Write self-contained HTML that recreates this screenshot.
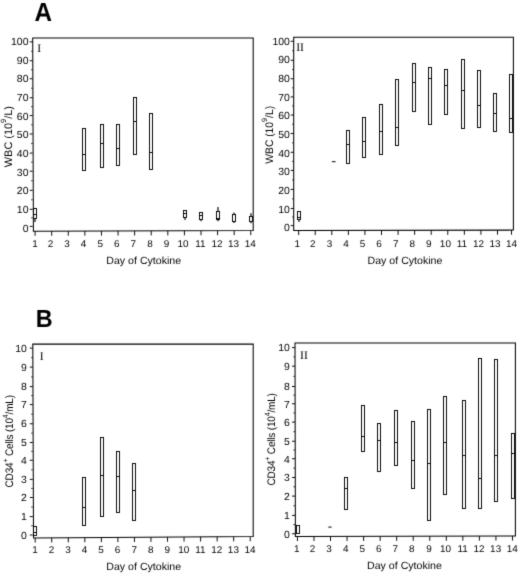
<!DOCTYPE html>
<html lang="en">
<head>
<meta charset="utf-8">
<title>Figure: WBC and CD34+ cells by day of cytokine</title>
<style>
html,body{margin:0;padding:0;background:#fff;}
body{width:520px;height:575px;overflow:hidden;}
svg{display:block;}
svg text{font-family:"Liberation Sans",sans-serif;fill:#000;text-rendering:geometricPrecision;}
svg text.rm{font-family:"Liberation Serif",serif;}
svg text.pl{font-weight:bold;}
</style>
</head>
<body>
<svg width="520" height="575" viewBox="0 0 520 575">
<defs><filter id="soft" color-interpolation-filters="sRGB" x="0" y="0" width="520" height="575" filterUnits="userSpaceOnUse"><feConvolveMatrix order="3" kernelMatrix="0.0144 0.0912 0.0144 0.0912 0.5776 0.0912 0.0144 0.0912 0.0144" edgeMode="none" preserveAlpha="false"/></filter></defs>
<rect x="0" y="0" width="520" height="575" fill="#ffffff"/>
<g filter="url(#soft)">
<!-- panel A-I -->
<path d="M32.70 37.90 L253.20 37.90 L253.20 230.50 L33.40 231.20 Z" fill="none" stroke="#000" stroke-width="1.05" stroke-linejoin="miter"/>
<line x1="29.70" y1="226.40" x2="32.70" y2="226.40" stroke="#000" stroke-width="0.95"/>
<text transform="translate(28.50,231.60) scale(1.016,1)" text-anchor="end" font-size="10.3">0</text>
<line x1="31.10" y1="217.85" x2="32.70" y2="217.85" stroke="#000" stroke-width="0.8"/>
<line x1="29.70" y1="209.30" x2="32.70" y2="209.30" stroke="#000" stroke-width="0.95"/>
<text transform="translate(28.50,212.93) scale(1.016,1)" text-anchor="end" font-size="10.3">10</text>
<line x1="31.10" y1="199.80" x2="32.70" y2="199.80" stroke="#000" stroke-width="0.8"/>
<line x1="29.70" y1="190.30" x2="32.70" y2="190.30" stroke="#000" stroke-width="0.95"/>
<text transform="translate(28.50,194.26) scale(1.016,1)" text-anchor="end" font-size="10.3">20</text>
<line x1="31.10" y1="180.75" x2="32.70" y2="180.75" stroke="#000" stroke-width="0.8"/>
<line x1="29.70" y1="171.20" x2="32.70" y2="171.20" stroke="#000" stroke-width="0.95"/>
<text transform="translate(28.50,175.59) scale(1.016,1)" text-anchor="end" font-size="10.3">30</text>
<line x1="31.10" y1="162.15" x2="32.70" y2="162.15" stroke="#000" stroke-width="0.8"/>
<line x1="29.70" y1="153.10" x2="32.70" y2="153.10" stroke="#000" stroke-width="0.95"/>
<text transform="translate(28.50,156.92) scale(1.016,1)" text-anchor="end" font-size="10.3">40</text>
<line x1="31.10" y1="143.55" x2="32.70" y2="143.55" stroke="#000" stroke-width="0.8"/>
<line x1="29.70" y1="134.00" x2="32.70" y2="134.00" stroke="#000" stroke-width="0.95"/>
<text transform="translate(28.50,138.25) scale(1.016,1)" text-anchor="end" font-size="10.3">50</text>
<line x1="31.10" y1="124.80" x2="32.70" y2="124.80" stroke="#000" stroke-width="0.8"/>
<line x1="29.70" y1="115.60" x2="32.70" y2="115.60" stroke="#000" stroke-width="0.95"/>
<text transform="translate(28.50,119.58) scale(1.016,1)" text-anchor="end" font-size="10.3">60</text>
<line x1="31.10" y1="106.67" x2="32.70" y2="106.67" stroke="#000" stroke-width="0.8"/>
<line x1="29.70" y1="97.75" x2="32.70" y2="97.75" stroke="#000" stroke-width="0.95"/>
<text transform="translate(28.50,100.91) scale(1.016,1)" text-anchor="end" font-size="10.3">70</text>
<line x1="31.10" y1="88.25" x2="32.70" y2="88.25" stroke="#000" stroke-width="0.8"/>
<line x1="29.70" y1="78.75" x2="32.70" y2="78.75" stroke="#000" stroke-width="0.95"/>
<text transform="translate(28.50,82.24) scale(1.016,1)" text-anchor="end" font-size="10.3">80</text>
<line x1="31.10" y1="69.72" x2="32.70" y2="69.72" stroke="#000" stroke-width="0.8"/>
<line x1="29.70" y1="60.70" x2="32.70" y2="60.70" stroke="#000" stroke-width="0.95"/>
<text transform="translate(28.50,63.57) scale(1.016,1)" text-anchor="end" font-size="10.3">90</text>
<line x1="31.10" y1="51.30" x2="32.70" y2="51.30" stroke="#000" stroke-width="0.8"/>
<line x1="29.70" y1="41.90" x2="32.70" y2="41.90" stroke="#000" stroke-width="0.95"/>
<text transform="translate(28.50,44.90) scale(1.016,1)" text-anchor="end" font-size="10.3">100</text>
<line x1="35.10" y1="231.19" x2="35.10" y2="235.79" stroke="#000" stroke-width="0.95"/>
<text transform="translate(35.10,247.10) scale(1.016,1)" text-anchor="middle" font-size="9.8">1</text>
<line x1="51.69" y1="231.14" x2="51.69" y2="235.74" stroke="#000" stroke-width="0.95"/>
<text transform="translate(50.39,247.10) scale(1.016,1)" text-anchor="middle" font-size="9.8">2</text>
<line x1="68.28" y1="231.09" x2="68.28" y2="235.69" stroke="#000" stroke-width="0.95"/>
<text transform="translate(66.98,247.10) scale(1.016,1)" text-anchor="middle" font-size="9.8">3</text>
<line x1="84.87" y1="231.03" x2="84.87" y2="235.63" stroke="#000" stroke-width="0.95"/>
<text transform="translate(83.57,247.10) scale(1.016,1)" text-anchor="middle" font-size="9.8">4</text>
<line x1="101.46" y1="230.98" x2="101.46" y2="235.58" stroke="#000" stroke-width="0.95"/>
<text transform="translate(100.16,247.10) scale(1.016,1)" text-anchor="middle" font-size="9.8">5</text>
<line x1="118.05" y1="230.93" x2="118.05" y2="235.53" stroke="#000" stroke-width="0.95"/>
<text transform="translate(116.75,247.10) scale(1.016,1)" text-anchor="middle" font-size="9.8">6</text>
<line x1="134.64" y1="230.88" x2="134.64" y2="235.48" stroke="#000" stroke-width="0.95"/>
<text transform="translate(133.34,247.10) scale(1.016,1)" text-anchor="middle" font-size="9.8">7</text>
<line x1="151.23" y1="230.82" x2="151.23" y2="235.42" stroke="#000" stroke-width="0.95"/>
<text transform="translate(149.93,247.10) scale(1.016,1)" text-anchor="middle" font-size="9.8">8</text>
<line x1="167.82" y1="230.77" x2="167.82" y2="235.37" stroke="#000" stroke-width="0.95"/>
<text transform="translate(166.52,247.10) scale(1.016,1)" text-anchor="middle" font-size="9.8">9</text>
<line x1="184.41" y1="230.72" x2="184.41" y2="235.32" stroke="#000" stroke-width="0.95"/>
<text transform="translate(183.11,247.10) scale(1.016,1)" text-anchor="middle" font-size="9.8">10</text>
<line x1="201.00" y1="230.67" x2="201.00" y2="235.27" stroke="#000" stroke-width="0.95"/>
<text transform="translate(200.40,247.10) scale(1.016,1)" text-anchor="middle" font-size="9.8">11</text>
<line x1="217.59" y1="230.61" x2="217.59" y2="235.21" stroke="#000" stroke-width="0.95"/>
<text transform="translate(216.99,247.10) scale(1.016,1)" text-anchor="middle" font-size="9.8">12</text>
<line x1="234.18" y1="230.56" x2="234.18" y2="235.16" stroke="#000" stroke-width="0.95"/>
<text transform="translate(233.58,247.10) scale(1.016,1)" text-anchor="middle" font-size="9.8">13</text>
<line x1="250.77" y1="230.51" x2="250.77" y2="235.11" stroke="#000" stroke-width="0.95"/>
<text transform="translate(250.17,247.10) scale(1.016,1)" text-anchor="middle" font-size="9.8">14</text>
<text transform="translate(143.75,263.80) scale(1.016,1)" text-anchor="middle" font-size="10.45">Day of Cytokine</text>
<text class="rm" transform="translate(37.30,51.50) scale(1.016,1)" text-anchor="start" font-size="11.5">I</text>
<line x1="35.00" y1="218.50" x2="35.00" y2="221.90" stroke="#000" stroke-width="1.15"/>
<rect x="33.50" y="208.50" width="3.00" height="10.00" fill="#fff" stroke="#000" stroke-width="0.95"/>
<line x1="33.50" y1="214.50" x2="36.50" y2="214.50" stroke="#000" stroke-width="0.95"/>
<rect x="82.50" y="128.50" width="3.00" height="42.00" fill="#fff" stroke="#000" stroke-width="0.95"/>
<line x1="82.50" y1="154.50" x2="85.50" y2="154.50" stroke="#000" stroke-width="0.95"/>
<rect x="100.50" y="124.50" width="3.00" height="43.00" fill="#fff" stroke="#000" stroke-width="0.95"/>
<line x1="100.50" y1="143.50" x2="103.50" y2="143.50" stroke="#000" stroke-width="0.95"/>
<rect x="116.50" y="124.50" width="3.00" height="41.00" fill="#fff" stroke="#000" stroke-width="0.95"/>
<line x1="116.50" y1="148.50" x2="119.50" y2="148.50" stroke="#000" stroke-width="0.95"/>
<rect x="133.50" y="97.50" width="3.00" height="57.00" fill="#fff" stroke="#000" stroke-width="0.95"/>
<line x1="133.50" y1="121.50" x2="136.50" y2="121.50" stroke="#000" stroke-width="0.95"/>
<rect x="149.50" y="113.50" width="3.00" height="56.00" fill="#fff" stroke="#000" stroke-width="0.95"/>
<line x1="149.50" y1="152.50" x2="152.50" y2="152.50" stroke="#000" stroke-width="0.95"/>
<line x1="185.00" y1="217.50" x2="185.00" y2="220.00" stroke="#000" stroke-width="1.15"/>
<rect x="183.50" y="210.50" width="3.00" height="7.00" fill="#fff" stroke="#000" stroke-width="0.95"/>
<line x1="183.50" y1="213.50" x2="186.50" y2="213.50" stroke="#000" stroke-width="0.95"/>
<line x1="201.00" y1="219.50" x2="201.00" y2="221.25" stroke="#000" stroke-width="1.15"/>
<rect x="199.50" y="212.50" width="3.00" height="7.00" fill="#fff" stroke="#000" stroke-width="0.95"/>
<line x1="199.50" y1="215.50" x2="202.50" y2="215.50" stroke="#000" stroke-width="0.95"/>
<line x1="218.00" y1="207.00" x2="218.00" y2="211.50" stroke="#000" stroke-width="1.15"/>
<line x1="218.00" y1="219.50" x2="218.00" y2="221.25" stroke="#000" stroke-width="1.15"/>
<rect x="216.50" y="211.50" width="3.00" height="8.00" fill="#fff" stroke="#000" stroke-width="0.95"/>
<line x1="216.50" y1="218.50" x2="219.50" y2="218.50" stroke="#000" stroke-width="0.95"/>
<line x1="234.00" y1="212.50" x2="234.00" y2="214.50" stroke="#000" stroke-width="1.15"/>
<line x1="234.00" y1="221.50" x2="234.00" y2="223.00" stroke="#000" stroke-width="1.15"/>
<rect x="232.50" y="214.50" width="3.00" height="7.00" fill="#fff" stroke="#000" stroke-width="0.95"/>
<line x1="251.00" y1="213.20" x2="251.00" y2="216.50" stroke="#000" stroke-width="1.15"/>
<line x1="251.00" y1="221.50" x2="251.00" y2="223.20" stroke="#000" stroke-width="1.15"/>
<rect x="249.50" y="216.50" width="3.00" height="5.00" fill="#fff" stroke="#000" stroke-width="0.95"/>
<!-- panel A-II -->
<path d="M293.70 37.30 L513.40 37.30 L513.40 230.10 L293.70 230.50 Z" fill="none" stroke="#000" stroke-width="1.05" stroke-linejoin="miter"/>
<line x1="290.70" y1="225.60" x2="293.70" y2="225.60" stroke="#000" stroke-width="0.95"/>
<text transform="translate(289.90,231.40) scale(1.016,1)" text-anchor="end" font-size="10.3">0</text>
<line x1="292.10" y1="217.05" x2="293.70" y2="217.05" stroke="#000" stroke-width="0.8"/>
<line x1="290.70" y1="208.50" x2="293.70" y2="208.50" stroke="#000" stroke-width="0.95"/>
<text transform="translate(289.90,212.72) scale(1.016,1)" text-anchor="end" font-size="10.3">10</text>
<line x1="292.10" y1="198.95" x2="293.70" y2="198.95" stroke="#000" stroke-width="0.8"/>
<line x1="290.70" y1="189.40" x2="293.70" y2="189.40" stroke="#000" stroke-width="0.95"/>
<text transform="translate(289.90,194.04) scale(1.016,1)" text-anchor="end" font-size="10.3">20</text>
<line x1="292.10" y1="179.90" x2="293.70" y2="179.90" stroke="#000" stroke-width="0.8"/>
<line x1="290.70" y1="170.40" x2="293.70" y2="170.40" stroke="#000" stroke-width="0.95"/>
<text transform="translate(289.90,175.36) scale(1.016,1)" text-anchor="end" font-size="10.3">30</text>
<line x1="292.10" y1="161.35" x2="293.70" y2="161.35" stroke="#000" stroke-width="0.8"/>
<line x1="290.70" y1="152.30" x2="293.70" y2="152.30" stroke="#000" stroke-width="0.95"/>
<text transform="translate(289.90,156.68) scale(1.016,1)" text-anchor="end" font-size="10.3">40</text>
<line x1="292.10" y1="142.90" x2="293.70" y2="142.90" stroke="#000" stroke-width="0.8"/>
<line x1="290.70" y1="133.50" x2="293.70" y2="133.50" stroke="#000" stroke-width="0.95"/>
<text transform="translate(289.90,138.00) scale(1.016,1)" text-anchor="end" font-size="10.3">50</text>
<line x1="292.10" y1="124.25" x2="293.70" y2="124.25" stroke="#000" stroke-width="0.8"/>
<line x1="290.70" y1="115.00" x2="293.70" y2="115.00" stroke="#000" stroke-width="0.95"/>
<text transform="translate(289.90,119.32) scale(1.016,1)" text-anchor="end" font-size="10.3">60</text>
<line x1="292.10" y1="105.95" x2="293.70" y2="105.95" stroke="#000" stroke-width="0.8"/>
<line x1="290.70" y1="96.90" x2="293.70" y2="96.90" stroke="#000" stroke-width="0.95"/>
<text transform="translate(289.90,100.64) scale(1.016,1)" text-anchor="end" font-size="10.3">70</text>
<line x1="292.10" y1="87.83" x2="293.70" y2="87.83" stroke="#000" stroke-width="0.8"/>
<line x1="290.70" y1="78.75" x2="293.70" y2="78.75" stroke="#000" stroke-width="0.95"/>
<text transform="translate(289.90,81.96) scale(1.016,1)" text-anchor="end" font-size="10.3">80</text>
<line x1="292.10" y1="69.50" x2="293.70" y2="69.50" stroke="#000" stroke-width="0.8"/>
<line x1="290.70" y1="60.25" x2="293.70" y2="60.25" stroke="#000" stroke-width="0.95"/>
<text transform="translate(289.90,63.28) scale(1.016,1)" text-anchor="end" font-size="10.3">90</text>
<line x1="292.10" y1="50.75" x2="293.70" y2="50.75" stroke="#000" stroke-width="0.8"/>
<line x1="290.70" y1="41.25" x2="293.70" y2="41.25" stroke="#000" stroke-width="0.95"/>
<text transform="translate(289.90,44.60) scale(1.016,1)" text-anchor="end" font-size="10.3">100</text>
<line x1="298.65" y1="230.49" x2="298.65" y2="235.09" stroke="#000" stroke-width="0.95"/>
<text transform="translate(297.35,246.90) scale(1.016,1)" text-anchor="middle" font-size="9.8">1</text>
<line x1="315.22" y1="230.46" x2="315.22" y2="235.06" stroke="#000" stroke-width="0.95"/>
<text transform="translate(312.82,246.90) scale(1.016,1)" text-anchor="middle" font-size="9.8">2</text>
<line x1="331.79" y1="230.43" x2="331.79" y2="235.03" stroke="#000" stroke-width="0.95"/>
<text transform="translate(329.39,246.90) scale(1.016,1)" text-anchor="middle" font-size="9.8">3</text>
<line x1="348.36" y1="230.40" x2="348.36" y2="235.00" stroke="#000" stroke-width="0.95"/>
<text transform="translate(345.96,246.90) scale(1.016,1)" text-anchor="middle" font-size="9.8">4</text>
<line x1="364.93" y1="230.37" x2="364.93" y2="234.97" stroke="#000" stroke-width="0.95"/>
<text transform="translate(362.53,246.90) scale(1.016,1)" text-anchor="middle" font-size="9.8">5</text>
<line x1="381.50" y1="230.34" x2="381.50" y2="234.94" stroke="#000" stroke-width="0.95"/>
<text transform="translate(379.10,246.90) scale(1.016,1)" text-anchor="middle" font-size="9.8">6</text>
<line x1="398.07" y1="230.31" x2="398.07" y2="234.91" stroke="#000" stroke-width="0.95"/>
<text transform="translate(395.67,246.90) scale(1.016,1)" text-anchor="middle" font-size="9.8">7</text>
<line x1="414.64" y1="230.28" x2="414.64" y2="234.88" stroke="#000" stroke-width="0.95"/>
<text transform="translate(412.24,246.90) scale(1.016,1)" text-anchor="middle" font-size="9.8">8</text>
<line x1="431.21" y1="230.25" x2="431.21" y2="234.85" stroke="#000" stroke-width="0.95"/>
<text transform="translate(428.81,246.90) scale(1.016,1)" text-anchor="middle" font-size="9.8">9</text>
<line x1="447.78" y1="230.22" x2="447.78" y2="234.82" stroke="#000" stroke-width="0.95"/>
<text transform="translate(445.38,246.90) scale(1.016,1)" text-anchor="middle" font-size="9.8">10</text>
<line x1="464.35" y1="230.19" x2="464.35" y2="234.79" stroke="#000" stroke-width="0.95"/>
<text transform="translate(461.95,246.90) scale(1.016,1)" text-anchor="middle" font-size="9.8">11</text>
<line x1="480.92" y1="230.16" x2="480.92" y2="234.76" stroke="#000" stroke-width="0.95"/>
<text transform="translate(478.52,246.90) scale(1.016,1)" text-anchor="middle" font-size="9.8">12</text>
<line x1="497.49" y1="230.13" x2="497.49" y2="234.73" stroke="#000" stroke-width="0.95"/>
<text transform="translate(495.09,246.90) scale(1.016,1)" text-anchor="middle" font-size="9.8">13</text>
<line x1="511.50" y1="230.10" x2="511.50" y2="234.70" stroke="#000" stroke-width="0.95"/>
<text transform="translate(511.50,246.90) scale(1.016,1)" text-anchor="middle" font-size="9.8">14</text>
<text transform="translate(405.00,263.80) scale(1.016,1)" text-anchor="middle" font-size="10.45">Day of Cytokine</text>
<text class="rm" transform="translate(296.20,51.40) scale(1.016,1)" text-anchor="start" font-size="11.5">II</text>
<line x1="299.00" y1="219.50" x2="299.00" y2="222.00" stroke="#000" stroke-width="1.15"/>
<rect x="297.50" y="211.50" width="3.00" height="8.00" fill="#fff" stroke="#000" stroke-width="0.95"/>
<line x1="297.50" y1="217.50" x2="300.50" y2="217.50" stroke="#000" stroke-width="0.95"/>
<rect x="346.50" y="130.50" width="3.00" height="33.00" fill="#fff" stroke="#000" stroke-width="0.95"/>
<line x1="346.50" y1="144.50" x2="349.50" y2="144.50" stroke="#000" stroke-width="0.95"/>
<rect x="362.50" y="117.50" width="3.00" height="40.00" fill="#fff" stroke="#000" stroke-width="0.95"/>
<line x1="362.50" y1="141.50" x2="365.50" y2="141.50" stroke="#000" stroke-width="0.95"/>
<rect x="379.50" y="104.50" width="3.00" height="50.00" fill="#fff" stroke="#000" stroke-width="0.95"/>
<line x1="379.50" y1="131.50" x2="382.50" y2="131.50" stroke="#000" stroke-width="0.95"/>
<rect x="395.50" y="79.50" width="3.00" height="66.00" fill="#fff" stroke="#000" stroke-width="0.95"/>
<line x1="395.50" y1="127.50" x2="398.50" y2="127.50" stroke="#000" stroke-width="0.95"/>
<rect x="412.50" y="63.50" width="3.00" height="48.00" fill="#fff" stroke="#000" stroke-width="0.95"/>
<line x1="412.50" y1="82.50" x2="415.50" y2="82.50" stroke="#000" stroke-width="0.95"/>
<rect x="428.50" y="67.50" width="3.00" height="57.00" fill="#fff" stroke="#000" stroke-width="0.95"/>
<line x1="428.50" y1="78.50" x2="431.50" y2="78.50" stroke="#000" stroke-width="0.95"/>
<rect x="444.50" y="69.50" width="3.00" height="45.00" fill="#fff" stroke="#000" stroke-width="0.95"/>
<line x1="444.50" y1="85.50" x2="447.50" y2="85.50" stroke="#000" stroke-width="0.95"/>
<rect x="461.50" y="59.50" width="3.00" height="69.00" fill="#fff" stroke="#000" stroke-width="0.95"/>
<line x1="461.50" y1="90.50" x2="464.50" y2="90.50" stroke="#000" stroke-width="0.95"/>
<rect x="477.50" y="70.50" width="3.00" height="57.00" fill="#fff" stroke="#000" stroke-width="0.95"/>
<line x1="477.50" y1="105.50" x2="480.50" y2="105.50" stroke="#000" stroke-width="0.95"/>
<rect x="493.50" y="93.50" width="3.00" height="38.00" fill="#fff" stroke="#000" stroke-width="0.95"/>
<line x1="493.50" y1="113.50" x2="496.50" y2="113.50" stroke="#000" stroke-width="0.95"/>
<rect x="509.50" y="74.50" width="3.00" height="58.00" fill="#fff" stroke="#000" stroke-width="0.95"/>
<line x1="509.50" y1="118.50" x2="512.50" y2="118.50" stroke="#000" stroke-width="0.95"/>
<line x1="331.90" y1="161.70" x2="335.60" y2="161.70" stroke="#000" stroke-width="1.0"/>
<!-- panel B-I -->
<path d="M32.80 344.10 L253.20 344.10 L253.20 536.60 L33.50 538.00 Z" fill="none" stroke="#000" stroke-width="1.05" stroke-linejoin="miter"/>
<line x1="29.80" y1="535.00" x2="32.80" y2="535.00" stroke="#000" stroke-width="0.95"/>
<text transform="translate(26.90,538.70) scale(1.016,1)" text-anchor="end" font-size="10.3">0</text>
<line x1="31.20" y1="525.80" x2="32.80" y2="525.80" stroke="#000" stroke-width="0.8"/>
<line x1="29.80" y1="516.60" x2="32.80" y2="516.60" stroke="#000" stroke-width="0.95"/>
<text transform="translate(26.90,520.30) scale(1.016,1)" text-anchor="end" font-size="10.3">1</text>
<line x1="31.20" y1="507.05" x2="32.80" y2="507.05" stroke="#000" stroke-width="0.8"/>
<line x1="29.80" y1="497.50" x2="32.80" y2="497.50" stroke="#000" stroke-width="0.95"/>
<text transform="translate(26.90,501.20) scale(1.016,1)" text-anchor="end" font-size="10.3">2</text>
<line x1="31.20" y1="488.45" x2="32.80" y2="488.45" stroke="#000" stroke-width="0.8"/>
<line x1="29.80" y1="479.40" x2="32.80" y2="479.40" stroke="#000" stroke-width="0.95"/>
<text transform="translate(26.90,483.10) scale(1.016,1)" text-anchor="end" font-size="10.3">3</text>
<line x1="31.20" y1="469.82" x2="32.80" y2="469.82" stroke="#000" stroke-width="0.8"/>
<line x1="29.80" y1="460.25" x2="32.80" y2="460.25" stroke="#000" stroke-width="0.95"/>
<text transform="translate(26.90,463.95) scale(1.016,1)" text-anchor="end" font-size="10.3">4</text>
<line x1="31.20" y1="451.38" x2="32.80" y2="451.38" stroke="#000" stroke-width="0.8"/>
<line x1="29.80" y1="442.50" x2="32.80" y2="442.50" stroke="#000" stroke-width="0.95"/>
<text transform="translate(26.90,446.20) scale(1.016,1)" text-anchor="end" font-size="10.3">5</text>
<line x1="31.20" y1="433.12" x2="32.80" y2="433.12" stroke="#000" stroke-width="0.8"/>
<line x1="29.80" y1="423.75" x2="32.80" y2="423.75" stroke="#000" stroke-width="0.95"/>
<text transform="translate(26.90,427.45) scale(1.016,1)" text-anchor="end" font-size="10.3">6</text>
<line x1="31.20" y1="414.18" x2="32.80" y2="414.18" stroke="#000" stroke-width="0.8"/>
<line x1="29.80" y1="404.60" x2="32.80" y2="404.60" stroke="#000" stroke-width="0.95"/>
<text transform="translate(26.90,408.30) scale(1.016,1)" text-anchor="end" font-size="10.3">7</text>
<line x1="31.20" y1="395.60" x2="32.80" y2="395.60" stroke="#000" stroke-width="0.8"/>
<line x1="29.80" y1="386.60" x2="32.80" y2="386.60" stroke="#000" stroke-width="0.95"/>
<text transform="translate(26.90,390.30) scale(1.016,1)" text-anchor="end" font-size="10.3">8</text>
<line x1="31.20" y1="376.85" x2="32.80" y2="376.85" stroke="#000" stroke-width="0.8"/>
<line x1="29.80" y1="367.10" x2="32.80" y2="367.10" stroke="#000" stroke-width="0.95"/>
<text transform="translate(26.90,370.80) scale(1.016,1)" text-anchor="end" font-size="10.3">9</text>
<line x1="31.20" y1="357.60" x2="32.80" y2="357.60" stroke="#000" stroke-width="0.8"/>
<line x1="29.80" y1="348.10" x2="32.80" y2="348.10" stroke="#000" stroke-width="0.95"/>
<text transform="translate(26.90,351.80) scale(1.016,1)" text-anchor="end" font-size="10.3">10</text>
<line x1="35.20" y1="537.98" x2="35.20" y2="542.58" stroke="#000" stroke-width="0.95"/>
<text transform="translate(34.90,553.30) scale(1.016,1)" text-anchor="middle" font-size="9.8">1</text>
<line x1="51.74" y1="537.88" x2="51.74" y2="542.48" stroke="#000" stroke-width="0.95"/>
<text transform="translate(51.44,553.30) scale(1.016,1)" text-anchor="middle" font-size="9.8">2</text>
<line x1="68.28" y1="537.77" x2="68.28" y2="542.37" stroke="#000" stroke-width="0.95"/>
<text transform="translate(67.98,553.30) scale(1.016,1)" text-anchor="middle" font-size="9.8">3</text>
<line x1="84.82" y1="537.67" x2="84.82" y2="542.27" stroke="#000" stroke-width="0.95"/>
<text transform="translate(84.52,553.30) scale(1.016,1)" text-anchor="middle" font-size="9.8">4</text>
<line x1="101.36" y1="537.56" x2="101.36" y2="542.16" stroke="#000" stroke-width="0.95"/>
<text transform="translate(101.06,553.30) scale(1.016,1)" text-anchor="middle" font-size="9.8">5</text>
<line x1="117.90" y1="537.46" x2="117.90" y2="542.06" stroke="#000" stroke-width="0.95"/>
<text transform="translate(117.60,553.30) scale(1.016,1)" text-anchor="middle" font-size="9.8">6</text>
<line x1="134.44" y1="537.35" x2="134.44" y2="541.95" stroke="#000" stroke-width="0.95"/>
<text transform="translate(134.14,553.30) scale(1.016,1)" text-anchor="middle" font-size="9.8">7</text>
<line x1="150.98" y1="537.25" x2="150.98" y2="541.85" stroke="#000" stroke-width="0.95"/>
<text transform="translate(150.68,553.30) scale(1.016,1)" text-anchor="middle" font-size="9.8">8</text>
<line x1="167.52" y1="537.14" x2="167.52" y2="541.74" stroke="#000" stroke-width="0.95"/>
<text transform="translate(167.22,553.30) scale(1.016,1)" text-anchor="middle" font-size="9.8">9</text>
<line x1="184.06" y1="537.04" x2="184.06" y2="541.64" stroke="#000" stroke-width="0.95"/>
<text transform="translate(183.76,553.30) scale(1.016,1)" text-anchor="middle" font-size="9.8">10</text>
<line x1="200.60" y1="536.93" x2="200.60" y2="541.53" stroke="#000" stroke-width="0.95"/>
<text transform="translate(200.30,553.30) scale(1.016,1)" text-anchor="middle" font-size="9.8">11</text>
<line x1="217.14" y1="536.83" x2="217.14" y2="541.43" stroke="#000" stroke-width="0.95"/>
<text transform="translate(216.84,553.30) scale(1.016,1)" text-anchor="middle" font-size="9.8">12</text>
<line x1="233.68" y1="536.72" x2="233.68" y2="541.32" stroke="#000" stroke-width="0.95"/>
<text transform="translate(233.38,553.30) scale(1.016,1)" text-anchor="middle" font-size="9.8">13</text>
<line x1="250.22" y1="536.62" x2="250.22" y2="541.22" stroke="#000" stroke-width="0.95"/>
<text transform="translate(249.92,553.30) scale(1.016,1)" text-anchor="middle" font-size="9.8">14</text>
<text transform="translate(143.75,570.00) scale(1.016,1)" text-anchor="middle" font-size="10.45">Day of Cytokine</text>
<text class="rm" transform="translate(39.80,359.60) scale(1.016,1)" text-anchor="start" font-size="11.5">I</text>
<rect x="33.50" y="526.50" width="3.00" height="9.00" fill="#fff" stroke="#000" stroke-width="0.95"/>
<line x1="33.50" y1="532.50" x2="36.50" y2="532.50" stroke="#000" stroke-width="0.95"/>
<rect x="82.50" y="477.50" width="3.00" height="48.00" fill="#fff" stroke="#000" stroke-width="0.95"/>
<line x1="82.50" y1="507.50" x2="85.50" y2="507.50" stroke="#000" stroke-width="0.95"/>
<rect x="100.50" y="437.50" width="3.00" height="79.00" fill="#fff" stroke="#000" stroke-width="0.95"/>
<line x1="100.50" y1="475.50" x2="103.50" y2="475.50" stroke="#000" stroke-width="0.95"/>
<rect x="116.50" y="451.50" width="3.00" height="61.00" fill="#fff" stroke="#000" stroke-width="0.95"/>
<line x1="116.50" y1="476.50" x2="119.50" y2="476.50" stroke="#000" stroke-width="0.95"/>
<rect x="132.50" y="463.50" width="3.00" height="57.00" fill="#fff" stroke="#000" stroke-width="0.95"/>
<line x1="132.50" y1="490.50" x2="135.50" y2="490.50" stroke="#000" stroke-width="0.95"/>
<!-- panel B-II -->
<path d="M295.00 343.00 L515.40 343.00 L515.40 536.00 L295.40 536.50 Z" fill="none" stroke="#000" stroke-width="1.05" stroke-linejoin="miter"/>
<line x1="292.00" y1="533.75" x2="295.00" y2="533.75" stroke="#000" stroke-width="0.95"/>
<text transform="translate(289.90,537.50) scale(1.016,1)" text-anchor="end" font-size="10.3">0</text>
<line x1="293.40" y1="524.58" x2="295.00" y2="524.58" stroke="#000" stroke-width="0.8"/>
<line x1="292.00" y1="515.40" x2="295.00" y2="515.40" stroke="#000" stroke-width="0.95"/>
<text transform="translate(289.90,519.15) scale(1.016,1)" text-anchor="end" font-size="10.3">1</text>
<line x1="293.40" y1="505.75" x2="295.00" y2="505.75" stroke="#000" stroke-width="0.8"/>
<line x1="292.00" y1="496.10" x2="295.00" y2="496.10" stroke="#000" stroke-width="0.95"/>
<text transform="translate(289.90,499.85) scale(1.016,1)" text-anchor="end" font-size="10.3">2</text>
<line x1="293.40" y1="486.80" x2="295.00" y2="486.80" stroke="#000" stroke-width="0.8"/>
<line x1="292.00" y1="477.50" x2="295.00" y2="477.50" stroke="#000" stroke-width="0.95"/>
<text transform="translate(289.90,481.25) scale(1.016,1)" text-anchor="end" font-size="10.3">3</text>
<line x1="293.40" y1="468.12" x2="295.00" y2="468.12" stroke="#000" stroke-width="0.8"/>
<line x1="292.00" y1="458.75" x2="295.00" y2="458.75" stroke="#000" stroke-width="0.95"/>
<text transform="translate(289.90,462.50) scale(1.016,1)" text-anchor="end" font-size="10.3">4</text>
<line x1="293.40" y1="450.00" x2="295.00" y2="450.00" stroke="#000" stroke-width="0.8"/>
<line x1="292.00" y1="441.25" x2="295.00" y2="441.25" stroke="#000" stroke-width="0.95"/>
<text transform="translate(289.90,445.00) scale(1.016,1)" text-anchor="end" font-size="10.3">5</text>
<line x1="293.40" y1="431.68" x2="295.00" y2="431.68" stroke="#000" stroke-width="0.8"/>
<line x1="292.00" y1="422.10" x2="295.00" y2="422.10" stroke="#000" stroke-width="0.95"/>
<text transform="translate(289.90,425.85) scale(1.016,1)" text-anchor="end" font-size="10.3">6</text>
<line x1="293.40" y1="412.93" x2="295.00" y2="412.93" stroke="#000" stroke-width="0.8"/>
<line x1="292.00" y1="403.75" x2="295.00" y2="403.75" stroke="#000" stroke-width="0.95"/>
<text transform="translate(289.90,407.50) scale(1.016,1)" text-anchor="end" font-size="10.3">7</text>
<line x1="293.40" y1="395.12" x2="295.00" y2="395.12" stroke="#000" stroke-width="0.8"/>
<line x1="292.00" y1="386.50" x2="295.00" y2="386.50" stroke="#000" stroke-width="0.95"/>
<text transform="translate(289.90,390.25) scale(1.016,1)" text-anchor="end" font-size="10.3">8</text>
<line x1="293.40" y1="376.35" x2="295.00" y2="376.35" stroke="#000" stroke-width="0.8"/>
<line x1="292.00" y1="366.20" x2="295.00" y2="366.20" stroke="#000" stroke-width="0.95"/>
<text transform="translate(289.90,369.95) scale(1.016,1)" text-anchor="end" font-size="10.3">9</text>
<line x1="293.40" y1="356.90" x2="295.00" y2="356.90" stroke="#000" stroke-width="0.8"/>
<line x1="292.00" y1="347.60" x2="295.00" y2="347.60" stroke="#000" stroke-width="0.95"/>
<text transform="translate(289.90,351.35) scale(1.016,1)" text-anchor="end" font-size="10.3">10</text>
<line x1="297.45" y1="536.49" x2="297.45" y2="541.09" stroke="#000" stroke-width="0.95"/>
<text transform="translate(296.85,552.10) scale(1.016,1)" text-anchor="middle" font-size="9.8">1</text>
<line x1="313.99" y1="536.46" x2="313.99" y2="541.06" stroke="#000" stroke-width="0.95"/>
<text transform="translate(312.59,552.10) scale(1.016,1)" text-anchor="middle" font-size="9.8">2</text>
<line x1="330.53" y1="536.42" x2="330.53" y2="541.02" stroke="#000" stroke-width="0.95"/>
<text transform="translate(329.13,552.10) scale(1.016,1)" text-anchor="middle" font-size="9.8">3</text>
<line x1="347.07" y1="536.38" x2="347.07" y2="540.98" stroke="#000" stroke-width="0.95"/>
<text transform="translate(345.67,552.10) scale(1.016,1)" text-anchor="middle" font-size="9.8">4</text>
<line x1="363.61" y1="536.34" x2="363.61" y2="540.94" stroke="#000" stroke-width="0.95"/>
<text transform="translate(362.21,552.10) scale(1.016,1)" text-anchor="middle" font-size="9.8">5</text>
<line x1="380.15" y1="536.31" x2="380.15" y2="540.91" stroke="#000" stroke-width="0.95"/>
<text transform="translate(378.75,552.10) scale(1.016,1)" text-anchor="middle" font-size="9.8">6</text>
<line x1="396.69" y1="536.27" x2="396.69" y2="540.87" stroke="#000" stroke-width="0.95"/>
<text transform="translate(395.29,552.10) scale(1.016,1)" text-anchor="middle" font-size="9.8">7</text>
<line x1="413.23" y1="536.23" x2="413.23" y2="540.83" stroke="#000" stroke-width="0.95"/>
<text transform="translate(411.83,552.10) scale(1.016,1)" text-anchor="middle" font-size="9.8">8</text>
<line x1="429.77" y1="536.19" x2="429.77" y2="540.79" stroke="#000" stroke-width="0.95"/>
<text transform="translate(428.97,552.10) scale(1.016,1)" text-anchor="middle" font-size="9.8">9</text>
<line x1="446.31" y1="536.16" x2="446.31" y2="540.76" stroke="#000" stroke-width="0.95"/>
<text transform="translate(445.51,552.10) scale(1.016,1)" text-anchor="middle" font-size="9.8">10</text>
<line x1="462.85" y1="536.12" x2="462.85" y2="540.72" stroke="#000" stroke-width="0.95"/>
<text transform="translate(462.55,552.10) scale(1.016,1)" text-anchor="middle" font-size="9.8">11</text>
<line x1="479.39" y1="536.08" x2="479.39" y2="540.68" stroke="#000" stroke-width="0.95"/>
<text transform="translate(479.09,552.10) scale(1.016,1)" text-anchor="middle" font-size="9.8">12</text>
<line x1="495.93" y1="536.04" x2="495.93" y2="540.64" stroke="#000" stroke-width="0.95"/>
<text transform="translate(495.63,552.10) scale(1.016,1)" text-anchor="middle" font-size="9.8">13</text>
<line x1="512.47" y1="536.01" x2="512.47" y2="540.61" stroke="#000" stroke-width="0.95"/>
<text transform="translate(512.17,552.10) scale(1.016,1)" text-anchor="middle" font-size="9.8">14</text>
<text transform="translate(404.50,568.80) scale(1.016,1)" text-anchor="middle" font-size="10.45">Day of Cytokine</text>
<text class="rm" transform="translate(300.00,358.60) scale(1.016,1)" text-anchor="start" font-size="11.5">II</text>
<rect x="296.50" y="525.50" width="3.00" height="8.00" fill="#fff" stroke="#000" stroke-width="0.95"/>
<rect x="344.50" y="477.50" width="3.00" height="32.00" fill="#fff" stroke="#000" stroke-width="0.95"/>
<line x1="344.50" y1="488.50" x2="347.50" y2="488.50" stroke="#000" stroke-width="0.95"/>
<rect x="361.50" y="405.50" width="3.00" height="46.00" fill="#fff" stroke="#000" stroke-width="0.95"/>
<line x1="361.50" y1="436.50" x2="364.50" y2="436.50" stroke="#000" stroke-width="0.95"/>
<rect x="377.50" y="423.50" width="3.00" height="48.00" fill="#fff" stroke="#000" stroke-width="0.95"/>
<line x1="377.50" y1="440.50" x2="380.50" y2="440.50" stroke="#000" stroke-width="0.95"/>
<rect x="394.50" y="410.50" width="3.00" height="55.00" fill="#fff" stroke="#000" stroke-width="0.95"/>
<line x1="394.50" y1="442.50" x2="397.50" y2="442.50" stroke="#000" stroke-width="0.95"/>
<rect x="411.50" y="421.50" width="3.00" height="67.00" fill="#fff" stroke="#000" stroke-width="0.95"/>
<line x1="411.50" y1="460.50" x2="414.50" y2="460.50" stroke="#000" stroke-width="0.95"/>
<rect x="427.50" y="409.50" width="3.00" height="111.00" fill="#fff" stroke="#000" stroke-width="0.95"/>
<line x1="427.50" y1="463.50" x2="430.50" y2="463.50" stroke="#000" stroke-width="0.95"/>
<rect x="443.50" y="396.50" width="3.00" height="98.00" fill="#fff" stroke="#000" stroke-width="0.95"/>
<line x1="443.50" y1="442.50" x2="446.50" y2="442.50" stroke="#000" stroke-width="0.95"/>
<rect x="462.50" y="400.50" width="3.00" height="108.00" fill="#fff" stroke="#000" stroke-width="0.95"/>
<line x1="462.50" y1="455.50" x2="465.50" y2="455.50" stroke="#000" stroke-width="0.95"/>
<rect x="478.50" y="358.50" width="3.00" height="150.00" fill="#fff" stroke="#000" stroke-width="0.95"/>
<line x1="478.50" y1="478.50" x2="481.50" y2="478.50" stroke="#000" stroke-width="0.95"/>
<rect x="494.50" y="359.50" width="3.00" height="142.00" fill="#fff" stroke="#000" stroke-width="0.95"/>
<line x1="494.50" y1="455.50" x2="497.50" y2="455.50" stroke="#000" stroke-width="0.95"/>
<rect x="511.50" y="433.50" width="3.00" height="65.00" fill="#fff" stroke="#000" stroke-width="0.95"/>
<line x1="511.50" y1="453.50" x2="514.50" y2="453.50" stroke="#000" stroke-width="0.95"/>
<line x1="328.30" y1="527.10" x2="331.60" y2="527.10" stroke="#000" stroke-width="1.0"/>
<text class="pl" transform="translate(34.6,21.0) scale(0.923,1)" font-size="26.3">A</text>
<text class="pl" transform="translate(35.7,327.3) scale(0.947,1)" font-size="24.7">B</text>
<text transform="translate(12.00,136.60) rotate(-90) scale(1,1)" text-anchor="middle" font-size="10.9" letter-spacing="0">WBC (10<tspan dy="-5.7" font-size="7.6">9</tspan><tspan dy="5.7">/L)</tspan></text>
<text transform="translate(273.00,134.80) rotate(-90) scale(0.945,1)" text-anchor="middle" font-size="10.9" letter-spacing="0">WBC (10<tspan dy="-5.7" font-size="7.6">9</tspan><tspan dy="5.7">/L)</tspan></text>
<text transform="translate(13.20,441.30) rotate(-90) scale(0.92,1)" text-anchor="middle" font-size="10.9" letter-spacing="-0.2">CD34<tspan dy="-5.7" font-size="7.6">+</tspan><tspan dy="5.7"> Cells (10</tspan><tspan dy="-5.7" font-size="7.6">4</tspan><tspan dy="5.7">/mL)</tspan></text>
<text transform="translate(275.20,439.40) rotate(-90) scale(0.92,1)" text-anchor="middle" font-size="10.9" letter-spacing="-0.2">CD34<tspan dy="-5.7" font-size="7.6">+</tspan><tspan dy="5.7"> Cells (10</tspan><tspan dy="-5.7" font-size="7.6">4</tspan><tspan dy="5.7">/mL)</tspan></text>
</g>
</svg>
</body>
</html>
